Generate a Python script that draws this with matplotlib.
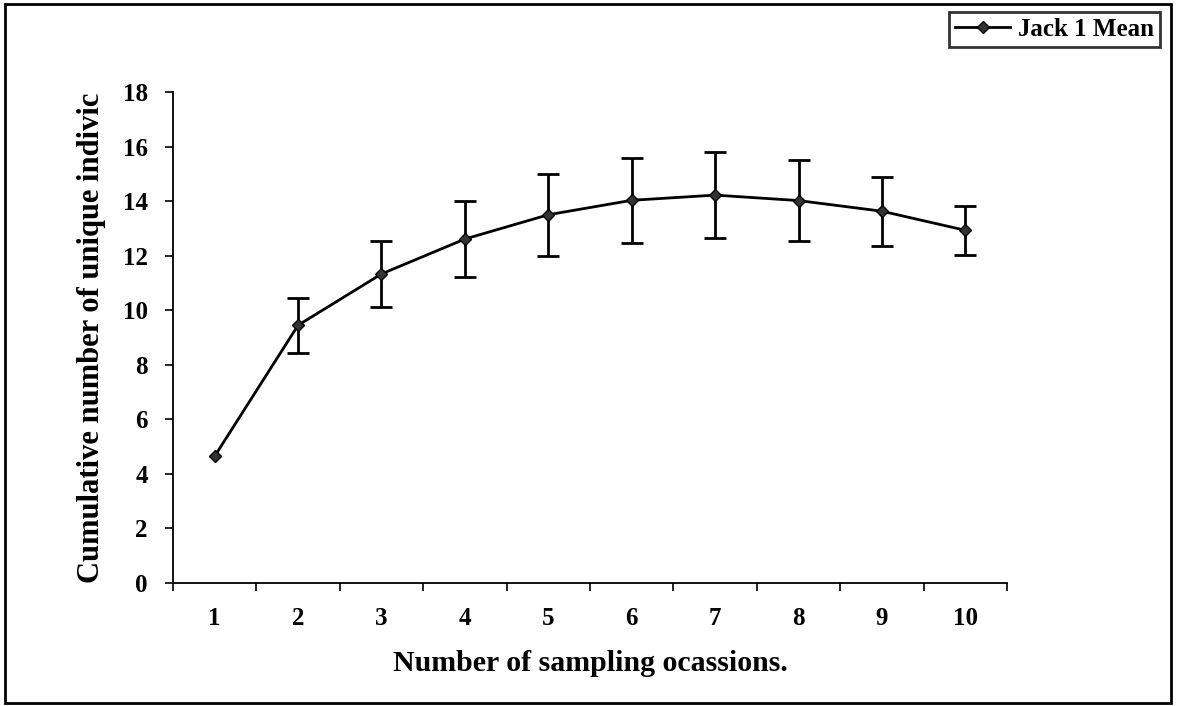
import matplotlib.pyplot as plt
from matplotlib.lines import Line2D
from matplotlib.patches import Rectangle

# Data
occasions = [1, 2, 3, 4, 5, 6, 7, 8, 9, 10]
jack1_mean = [4.65, 9.45, 11.33, 12.61, 13.5, 14.03, 14.22, 14.02, 13.63, 12.93]
jack1_err = [0.0, 1.0, 1.2, 1.4, 1.5, 1.55, 1.57, 1.5, 1.27, 0.9]

tick_labels = [str(o) for o in occasions]

plt.rcParams['font.family'] = ['Liberation Serif', 'DejaVu Serif']
plt.rcParams['font.weight'] = 'bold'

fig = plt.figure(figsize=(11.8, 7.06), dpi=100)
ax = fig.add_axes([0.1466, 0.1742, 0.7068, 0.6955])

ax.plot(occasions, jack1_mean, color='black', lw=2, marker='D', markersize=6,
        markerfacecolor='#333333', markeredgecolor='black', zorder=3)
# first occasion has no error bar
ax.errorbar(occasions[1:], jack1_mean[1:], yerr=jack1_err[1:], fmt='none',
            ecolor='black', elinewidth=2, capsize=8, capthick=2, zorder=2)

ax.set_xlim(0.5, 10.5)
ax.set_ylim(0, 18)
ax.set_yticks(range(0, 19, 2))
ax.tick_params(axis='y', direction='out', length=6, width=1.2, labelsize=18, pad=12)

# category axis: tick marks between categories, labels at centres
ax.set_xticks([o + 0.5 for o in [0] + occasions])
ax.set_xticklabels([])
ax.set_xticks(occasions, minor=True)
ax.set_xticklabels(tick_labels, minor=True, fontsize=18, fontweight='bold')
ax.tick_params(axis='x', which='major', direction='out', length=6, width=1.2)
ax.tick_params(axis='x', which='minor', length=0, pad=17)

for side in ['top', 'right']:
    ax.spines[side].set_visible(False)
for side in ['left', 'bottom']:
    ax.spines[side].set_linewidth(1.3)

ax.set_xlabel('Number of sampling ocassions.', fontsize=21.5, fontweight='bold', labelpad=15)
ax.set_ylabel('Cumulative number of unique indivic', fontsize=22, fontweight='bold', labelpad=12)

handle = Line2D([], [], color='black', lw=2, marker='D', markersize=6,
                markerfacecolor='#333333', markeredgecolor='black')
leg = fig.legend([handle], ['Jack 1 Mean'], loc='upper right',
                 bbox_to_anchor=(0.985, 0.987), fontsize=18, frameon=True,
                 fancybox=False, handlelength=2.2, borderpad=0.25,
                 handletextpad=0.3, borderaxespad=0.1)
leg.get_frame().set_edgecolor('black')
leg.get_frame().set_linewidth(2)
for t in leg.get_texts():
    t.set_fontweight('bold')

# outer border of the chart area
fig.patches.append(Rectangle((0.004, 0.004), 0.988, 0.99, transform=fig.transFigure,
                             fill=False, edgecolor='black', lw=2))

fig.savefig('out.png', dpi=100)
